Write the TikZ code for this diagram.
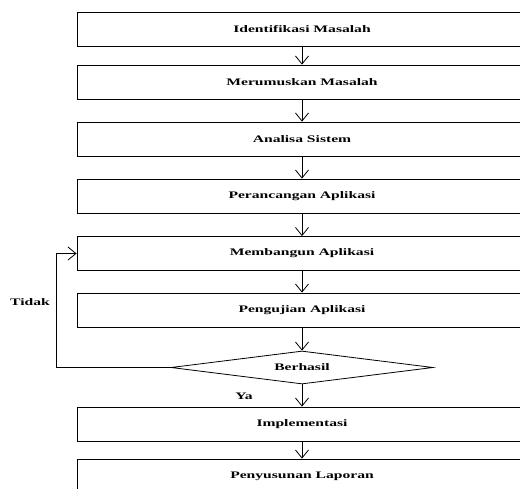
\documentclass[tikz,border=0pt]{standalone}
\usepackage{fontspec}
\setmainfont{Liberation Serif}[FakeStretch=1.56]
\usetikzlibrary{shapes.geometric,arrows.meta}
\begin{document}
\begin{tikzpicture}[x=1pt,y=-1pt,
  every node/.style={font=\fontsize{10pt}{12pt}\selectfont\bfseries},
  stepbox/.style={draw=black,line width=0.8pt,minimum width=450pt,minimum height=34pt,inner sep=0pt,anchor=center},
  decision/.style={draw=black,line width=0.8pt,diamond,shape aspect=7.9,minimum width=262pt,minimum height=33pt,inner sep=0pt},
  flow/.style={draw=black,line width=0.8pt,-{Straight Barb[length=8pt,width=13pt,line width=0.8pt]}},
  lbl/.style={inner sep=0pt}]
\clip (0,0) rectangle (520,488);
\fill[white] (0,0) rectangle (520,488);
\node[stepbox] (b1) at (302,29) {Identifikasi Masalah};
\node[stepbox] (b2) at (302,82) {Merumuskan Masalah};
\node[stepbox] (b3) at (302,139) {Analisa Sistem};
\node[stepbox] (b4) at (302,196) {Perancangan Aplikasi};
\node[stepbox] (b5) at (302,253.5) {Membangun Aplikasi};
\node[stepbox] (b6) at (302,310) {Pengujian Aplikasi};
\node[decision] (d) at (302,367.5) {Berhasil};
\node[stepbox] (b7) at (302,424) {Implementasi};
\node[stepbox] (b8) at (302,476) {Penyusunan Laporan};
\draw[flow] (b1) -- (b2);
\draw[flow] (b2) -- (b3);
\draw[flow] (b3) -- (b4);
\draw[flow] (b4) -- (b5);
\draw[flow] (b5) -- (b6);
\draw[flow] (b6) -- (d);
\draw[flow] (d) -- (b7);
\draw[flow] (b7) -- (b8);
\coordinate (lp) at (56,367.5);
\draw[flow] (d.west) -- (lp) |- (b5.west);
\node[lbl] (tidak) at (30,302) {Tidak};
\node[lbl] (ya) at (244,396) {Ya};
\end{tikzpicture}
\end{document}
